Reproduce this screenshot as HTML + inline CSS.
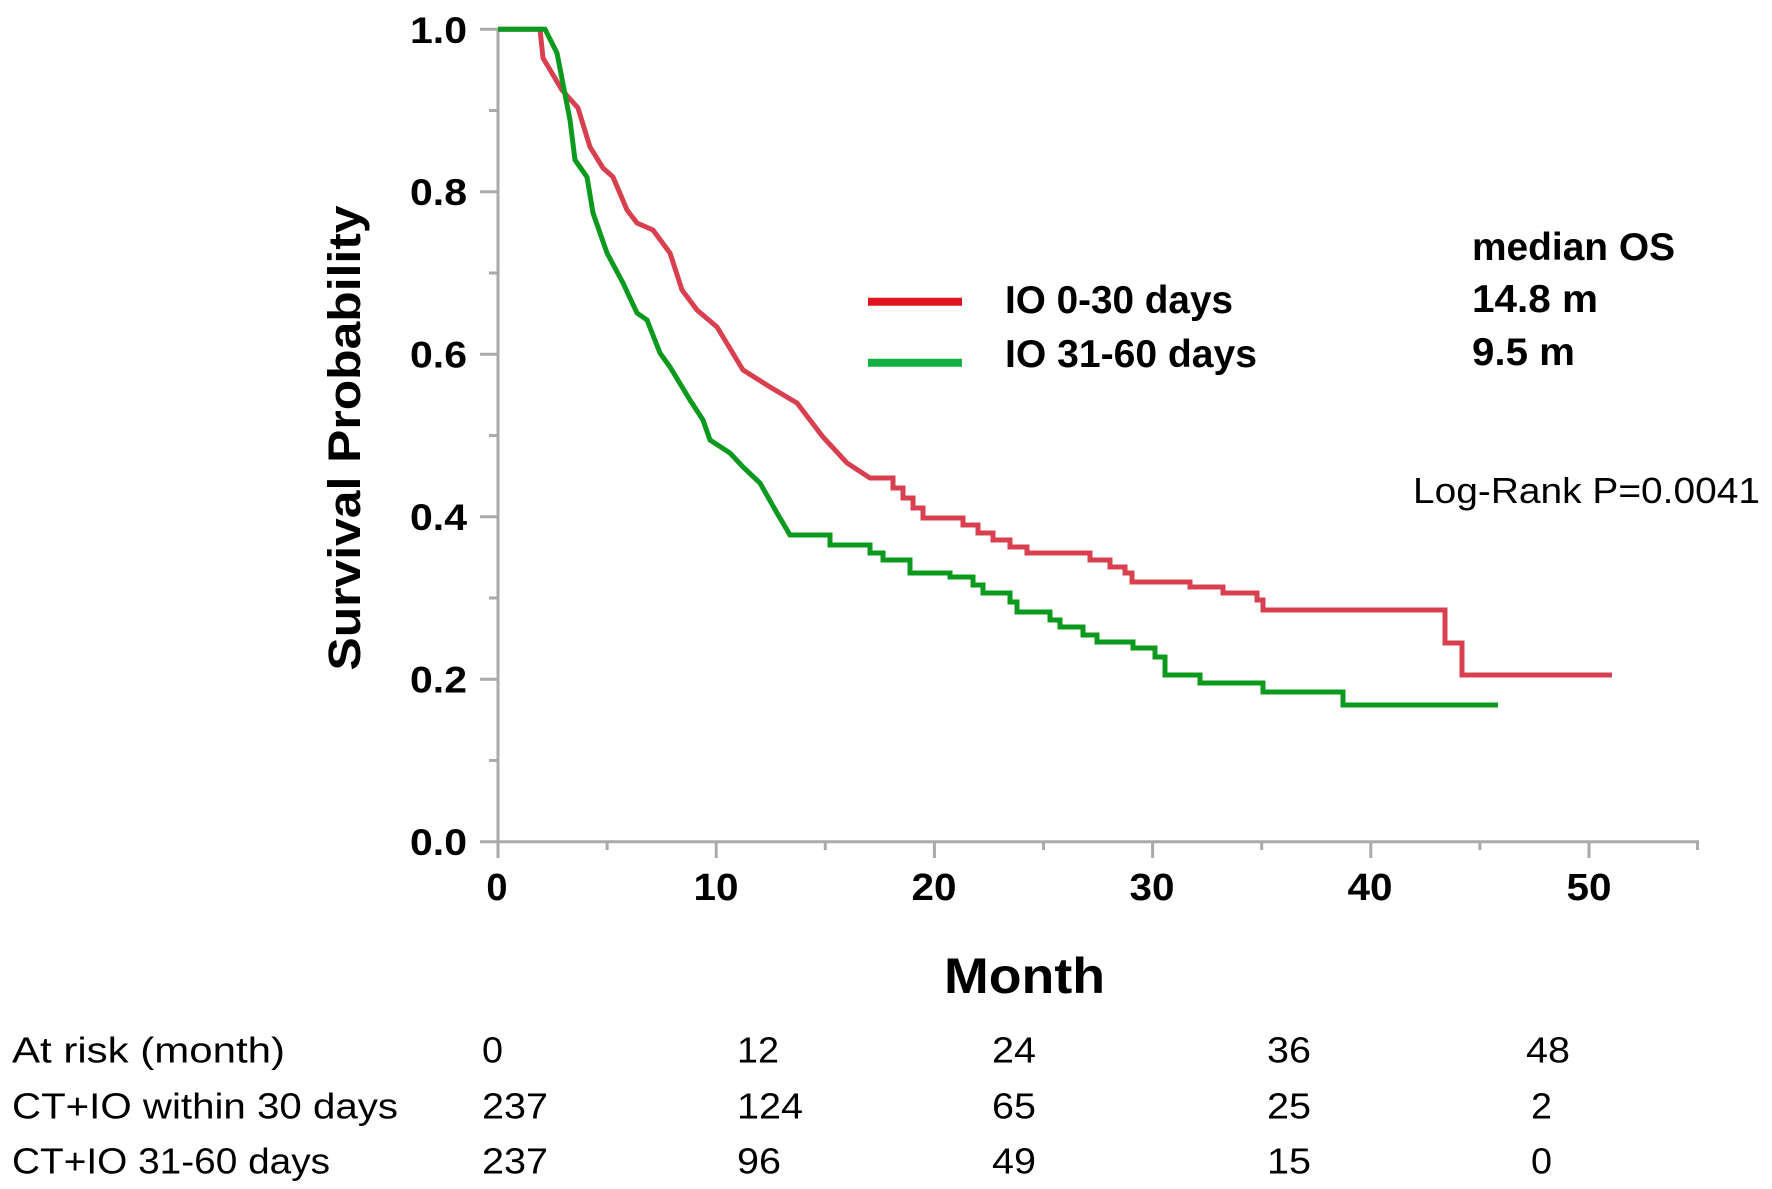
<!DOCTYPE html>
<html>
<head>
<meta charset="utf-8">
<style>
  html, body { margin: 0; padding: 0; background: #ffffff; }
  svg { display: block; }
  text { font-family: "Liberation Sans", Arial, sans-serif; fill: #000; }
  .b { font-weight: bold; }
</style>
</head>
<body>
<svg width="1772" height="1189" viewBox="0 0 1772 1189" xmlns="http://www.w3.org/2000/svg">
  <rect x="0" y="0" width="1772" height="1189" fill="#ffffff"/>

  <!-- Axes -->
  <g stroke="#aaaaaa" stroke-width="3" fill="none">
    <line x1="498" y1="29" x2="498" y2="842"/>
    <line x1="497" y1="841.7" x2="1699" y2="841.7"/>
    <line x1="480" y1="841.7" x2="498" y2="841.7"/>
    <line x1="480" y1="679.2" x2="498" y2="679.2"/>
    <line x1="480" y1="516.7" x2="498" y2="516.7"/>
    <line x1="480" y1="354.2" x2="498" y2="354.2"/>
    <line x1="480" y1="191.7" x2="498" y2="191.7"/>
    <line x1="480" y1="29.2" x2="498" y2="29.2"/>
    <line x1="489" y1="760.5" x2="498" y2="760.5"/>
    <line x1="489" y1="598" x2="498" y2="598"/>
    <line x1="489" y1="435.5" x2="498" y2="435.5"/>
    <line x1="489" y1="273" x2="498" y2="273"/>
    <line x1="489" y1="110.5" x2="498" y2="110.5"/>
    <line x1="498" y1="841" x2="498" y2="858"/>
    <line x1="716.2" y1="841" x2="716.2" y2="858"/>
    <line x1="934.4" y1="841" x2="934.4" y2="858"/>
    <line x1="1152.6" y1="841" x2="1152.6" y2="858"/>
    <line x1="1370.8" y1="841" x2="1370.8" y2="858"/>
    <line x1="1589" y1="841" x2="1589" y2="858"/>
    <line x1="607.1" y1="841" x2="607.1" y2="850"/>
    <line x1="825.3" y1="841" x2="825.3" y2="850"/>
    <line x1="1043.5" y1="841" x2="1043.5" y2="850"/>
    <line x1="1261.7" y1="841" x2="1261.7" y2="850"/>
    <line x1="1479.9" y1="841" x2="1479.9" y2="850"/>
    <line x1="1697.5" y1="841" x2="1697.5" y2="850"/>
  </g>

  <!-- Y tick labels -->
  <g class="b" font-size="37" text-anchor="end">
    <text x="467" y="855" textLength="57" lengthAdjust="spacingAndGlyphs">0.0</text>
    <text x="467" y="692.5" textLength="57" lengthAdjust="spacingAndGlyphs">0.2</text>
    <text x="467" y="530" textLength="57" lengthAdjust="spacingAndGlyphs">0.4</text>
    <text x="467" y="367.5" textLength="57" lengthAdjust="spacingAndGlyphs">0.6</text>
    <text x="467" y="205" textLength="57" lengthAdjust="spacingAndGlyphs">0.8</text>
    <text x="467" y="43" textLength="57" lengthAdjust="spacingAndGlyphs">1.0</text>
  </g>

  <!-- X tick labels -->
  <g class="b" font-size="38" text-anchor="middle">
    <text x="497" y="900">0</text>
    <text x="716" y="900" textLength="45" lengthAdjust="spacingAndGlyphs">10</text>
    <text x="934" y="900" textLength="45" lengthAdjust="spacingAndGlyphs">20</text>
    <text x="1152" y="900" textLength="45" lengthAdjust="spacingAndGlyphs">30</text>
    <text x="1370" y="900" textLength="45" lengthAdjust="spacingAndGlyphs">40</text>
    <text x="1589" y="900" textLength="45" lengthAdjust="spacingAndGlyphs">50</text>
  </g>

  <!-- Axis titles -->
  <text class="b" font-size="45" text-anchor="middle" transform="translate(360,438) rotate(-90)" textLength="465" lengthAdjust="spacingAndGlyphs">Survival Probability</text>
  <text class="b" font-size="50" x="944" y="993" textLength="161" lengthAdjust="spacingAndGlyphs">Month</text>

  <!-- Curves -->
  <path fill="none" stroke="#d8404f" stroke-width="5" stroke-linejoin="miter"
    d="M498,29.2 L540,29.2 L543,58 L562,90 L578,108 L590,147 L603,168 L613,177 L627,210 L637,223 L653,230 L670,253 L682,290 L697,310 L717,327 L743,370 L770,387 L797,403 L823,437 L847,463 L870,478 H893 V488 H903 V498 H913 V508 H923 V518 H963 V525 H978 V533 H993 V540 H1010 V547 H1027 V553 H1090 V560 H1110 V567 H1125 V573 H1132 V582 H1190 V587 H1223 V593 H1257 V600 H1263 V610 H1445 V643 H1462 V675 H1612"/>
  <path fill="none" stroke="#0b9a1e" stroke-width="5" stroke-linejoin="miter"
    d="M498,29.2 L545,29.2 L557,53 L570,120 L575,160 L587,177 L593,213 L607,253 L623,283 L637,313 L647,320 L660,353 L670,367 L690,400 L703,420 L710,440 L730,453 L743,467 L760,483 L777,513 L790,535 H830 V545 H870 V553 H883 V560 H910 V573 H950 V577 H973 V585 H983 V593 H1010 V602 H1017 V612 H1050 V620 H1060 V627 H1083 V635 H1097 V642 H1133 V648 H1155 V657 H1165 V675 H1200 V683 H1263 V692 H1343 V705 H1498"/>

  <!-- Legend -->
  <line x1="868" y1="301.7" x2="962" y2="301.7" stroke="#e0141e" stroke-width="8"/>
  <line x1="868" y1="362.7" x2="962" y2="362.7" stroke="#13b043" stroke-width="8"/>
  <text class="b" font-size="39" x="1005" y="313" textLength="228" lengthAdjust="spacingAndGlyphs">IO 0-30 days</text>
  <text class="b" font-size="39" x="1005" y="367" textLength="252" lengthAdjust="spacingAndGlyphs">IO 31-60 days</text>

  <!-- Median OS -->
  <text class="b" font-size="39" x="1472" y="260" textLength="203" lengthAdjust="spacingAndGlyphs">median OS</text>
  <text class="b" font-size="39" x="1472" y="312" textLength="126" lengthAdjust="spacingAndGlyphs">14.8 m</text>
  <text class="b" font-size="39" x="1472" y="365" textLength="103" lengthAdjust="spacingAndGlyphs">9.5 m</text>

  <!-- Log-rank -->
  <text font-size="36" x="1413" y="503" textLength="347" lengthAdjust="spacingAndGlyphs">Log-Rank P=0.0041</text>

  <!-- At risk table -->
  <g font-size="36">
    <text x="12" y="1062.5" textLength="273" lengthAdjust="spacingAndGlyphs">At risk (month)</text>
    <text x="12" y="1118.5" textLength="386" lengthAdjust="spacingAndGlyphs">CT+IO within 30 days</text>
    <text x="12" y="1173.5" textLength="318" lengthAdjust="spacingAndGlyphs">CT+IO 31-60 days</text>

    <text x="482" y="1062.5" textLength="21" lengthAdjust="spacingAndGlyphs">0</text>
    <text x="482" y="1118.5" textLength="66" lengthAdjust="spacingAndGlyphs">237</text>
    <text x="482" y="1173.5" textLength="66" lengthAdjust="spacingAndGlyphs">237</text>

    <text x="737" y="1062.5" textLength="42" lengthAdjust="spacingAndGlyphs">12</text>
    <text x="737" y="1118.5" textLength="66" lengthAdjust="spacingAndGlyphs">124</text>
    <text x="737" y="1173.5" textLength="44" lengthAdjust="spacingAndGlyphs">96</text>

    <text x="992" y="1062.5" textLength="44" lengthAdjust="spacingAndGlyphs">24</text>
    <text x="992" y="1118.5" textLength="44" lengthAdjust="spacingAndGlyphs">65</text>
    <text x="992" y="1173.5" textLength="44" lengthAdjust="spacingAndGlyphs">49</text>

    <text x="1267" y="1062.5" textLength="44" lengthAdjust="spacingAndGlyphs">36</text>
    <text x="1267" y="1118.5" textLength="44" lengthAdjust="spacingAndGlyphs">25</text>
    <text x="1267" y="1173.5" textLength="44" lengthAdjust="spacingAndGlyphs">15</text>

    <text x="1526" y="1062.5" textLength="44" lengthAdjust="spacingAndGlyphs">48</text>
    <text x="1531" y="1118.5" textLength="21" lengthAdjust="spacingAndGlyphs">2</text>
    <text x="1531" y="1173.5" textLength="21" lengthAdjust="spacingAndGlyphs">0</text>
  </g>
</svg>
</body>
</html>
